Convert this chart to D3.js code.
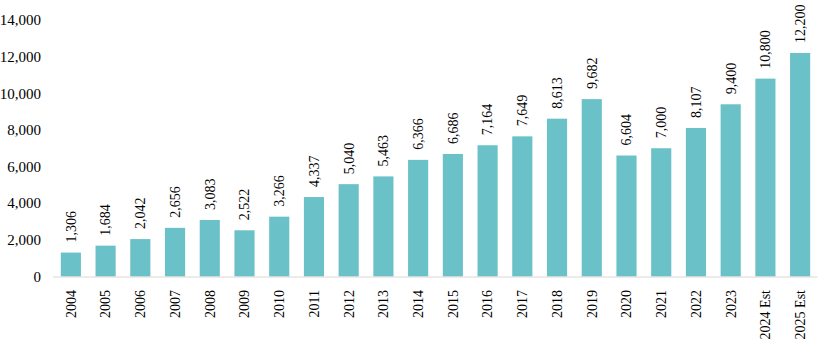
<!DOCTYPE html>
<html>
<head>
<meta charset="utf-8">
<script src="https://cdn.jsdelivr.net/npm/d3@7"></script>
<style>
  body { margin: 0; background: white; }
  text { font-family: "Liberation Serif", "Times New Roman", serif; }
</style>
</head>
<body>
<div id="container"></div>
<script>
let w = 819;
let h = 344;

// DATA
let years = ["2004","2005","2006","2007","2008","2009","2010","2011","2012","2013","2014",
  "2015","2016","2017","2018","2019","2020","2021","2022","2023","2024 Est","2025 Est"];
let values = [1306,1684,2042,2656,3083,2522,3266,4337,5040,5463,6366,
  6686,7164,7649,8613,9682,6604,7000,8107,9400,10800,12200];
let yTicks = [0,2000,4000,6000,8000,10000,12000,14000];

let viz = d3.select("#container").append("svg")
  .attr("width", w)
  .attr("height", h)
  .style("background-color", "white");

let xScale = d3.scaleBand().domain(years).range([53.5, 817.5]).paddingInner(0.42).paddingOuter(0.21);
let yScale = d3.scaleLinear().domain([0, 14000]).range([276.5, 20]);

// y axis labels (no line)
viz.selectAll(".ytick").data(yTicks).enter()
  .append("text")
  .attr("class", "ytick")
  .attr("x", 41)
  .attr("y", d => yScale(d))
  .attr("dy", "0.35em")
  .attr("text-anchor", "end")
  .attr("font-size", 15)
  .text(d => d3.format(",")(d));

// bars
viz.selectAll(".bar").data(values).enter()
  .append("rect")
  .attr("class", "bar")
  .attr("x", (d, i) => xScale(years[i]))
  .attr("y", d => yScale(d))
  .attr("width", xScale.bandwidth())
  .attr("height", d => yScale(0) - yScale(d))
  .attr("fill", "#6bc1c8");

// baseline
viz.append("line")
  .attr("x1", 53).attr("x2", 817.5)
  .attr("y1", yScale(0) + 0.5).attr("y2", yScale(0) + 0.5)
  .attr("stroke", "#dcd6d6")
  .attr("stroke-width", 1);

// value labels
viz.selectAll(".vlabel").data(values).enter()
  .append("text")
  .attr("class", "vlabel")
  .attr("transform", (d, i) => "translate(" + (xScale(years[i]) + xScale.bandwidth() / 2) + "," + (yScale(d) - 10) + ") rotate(-90)")
  .attr("dy", "0.35em")
  .attr("font-size", 14)
  .text(d => d3.format(",")(d));

// x labels
viz.selectAll(".xlabel").data(years).enter()
  .append("text")
  .attr("class", "xlabel")
  .attr("transform", d => "translate(" + (xScale(d) + xScale.bandwidth() / 2) + "," + 290 + ") rotate(-90)")
  .attr("dy", "0.35em")
  .attr("text-anchor", "end")
  .attr("font-size", 14)
  .text(d => d);
</script>
</body>
</html>
